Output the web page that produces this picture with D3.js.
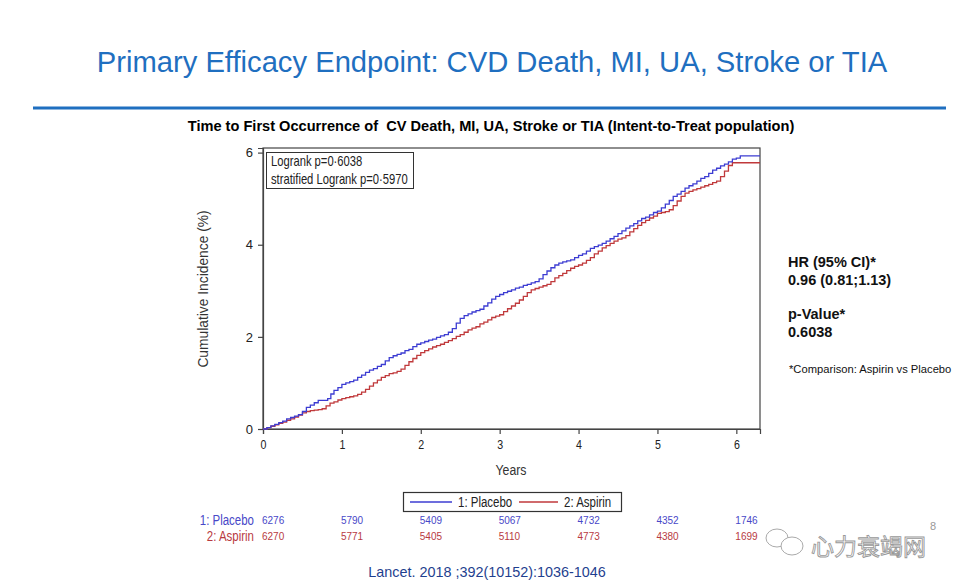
<!DOCTYPE html>
<html><head><meta charset="utf-8">
<script src="https://cdn.jsdelivr.net/npm/d3@7"></script>
<style>
html,body{margin:0;padding:0;background:#fff;}
svg{display:block;}
</style></head>
<body>
<svg id="c" width="962" height="586"></svg>
<script>
// ---------- data ----------
const placeboTime = [0,0.05,0.1,0.15,0.2,0.25,0.3,0.35,0.4,0.45,0.5,0.55,0.6,0.65,0.7,0.78,0.82,0.86,0.9,0.95,1.0,1.05,1.1,1.15,1.2,1.25,1.3,1.35,1.4,1.45,1.5,1.55,1.6,1.65,1.7,1.75,1.8,1.85,1.9,1.95,2.0,2.05,2.1,2.15,2.2,2.25,2.3,2.35,2.4,2.45,2.5,2.55,2.6,2.65,2.7,2.75,2.8,2.85,2.9,2.95,3.0,3.05,3.1,3.15,3.2,3.25,3.3,3.35,3.4,3.45,3.5,3.55,3.6,3.65,3.7,3.75,3.8,3.85,3.9,3.95,4.0,4.05,4.1,4.15,4.2,4.25,4.3,4.35,4.4,4.45,4.5,4.55,4.6,4.65,4.7,4.75,4.8,4.85,4.9,4.95,5.0,5.05,5.1,5.15,5.2,5.25,5.3,5.35,5.4,5.45,5.5,5.55,5.6,5.65,5.7,5.75,5.8,5.85,5.9,5.95,6.0,6.05,6.3];
const placeboValue = [0,0.03,0.07,0.10,0.14,0.17,0.22,0.25,0.28,0.31,0.38,0.47,0.52,0.57,0.62,0.62,0.66,0.76,0.84,0.90,0.97,1.00,1.03,1.06,1.12,1.17,1.23,1.28,1.31,1.36,1.40,1.48,1.55,1.59,1.62,1.65,1.70,1.73,1.79,1.84,1.87,1.90,1.93,1.95,1.99,2.02,2.05,2.10,2.18,2.30,2.40,2.46,2.50,2.54,2.57,2.60,2.67,2.74,2.82,2.88,2.92,2.96,2.99,3.02,3.06,3.08,3.12,3.14,3.17,3.20,3.26,3.35,3.43,3.50,3.56,3.60,3.63,3.65,3.67,3.72,3.77,3.80,3.86,3.92,3.96,3.99,4.03,4.08,4.13,4.18,4.24,4.30,4.36,4.41,4.46,4.52,4.57,4.60,4.65,4.70,4.73,4.80,4.88,4.96,5.05,5.10,5.16,5.23,5.28,5.32,5.38,5.44,5.48,5.55,5.62,5.66,5.71,5.75,5.80,5.86,5.88,5.93,5.93];
const aspirinTime = [0,0.05,0.1,0.15,0.2,0.25,0.3,0.35,0.4,0.45,0.5,0.55,0.6,0.65,0.7,0.75,0.8,0.85,0.9,0.95,1.0,1.05,1.1,1.15,1.2,1.25,1.3,1.35,1.4,1.45,1.5,1.55,1.6,1.65,1.7,1.75,1.8,1.85,1.9,1.95,2.0,2.05,2.1,2.15,2.2,2.25,2.3,2.35,2.4,2.45,2.5,2.55,2.6,2.65,2.7,2.75,2.8,2.85,2.9,2.95,3.0,3.05,3.1,3.15,3.2,3.25,3.3,3.35,3.4,3.45,3.5,3.55,3.6,3.65,3.7,3.75,3.8,3.85,3.9,3.95,4.0,4.05,4.1,4.15,4.2,4.25,4.3,4.35,4.4,4.45,4.5,4.55,4.6,4.65,4.7,4.75,4.8,4.85,4.9,4.95,5.0,5.05,5.1,5.15,5.2,5.25,5.3,5.35,5.4,5.45,5.5,5.55,5.6,5.65,5.7,5.75,5.8,5.85,5.9,5.95,6.3];
const aspirinValue = [0,0.03,0.06,0.09,0.12,0.15,0.19,0.22,0.26,0.30,0.35,0.38,0.40,0.41,0.42,0.44,0.50,0.56,0.59,0.63,0.66,0.68,0.70,0.72,0.75,0.80,0.86,0.93,1.00,1.06,1.12,1.16,1.20,1.22,1.25,1.30,1.38,1.46,1.53,1.60,1.66,1.70,1.74,1.78,1.81,1.84,1.88,1.92,1.96,2.01,2.05,2.10,2.15,2.19,2.22,2.28,2.32,2.37,2.42,2.45,2.48,2.55,2.61,2.67,2.73,2.80,2.88,2.96,3.02,3.05,3.08,3.11,3.14,3.20,3.28,3.33,3.38,3.44,3.49,3.53,3.56,3.60,3.66,3.72,3.80,3.86,3.93,3.98,4.03,4.08,4.12,4.15,4.20,4.28,4.35,4.42,4.48,4.53,4.58,4.62,4.68,4.70,4.72,4.76,4.85,4.95,5.05,5.12,5.16,5.19,5.22,5.25,5.28,5.31,5.35,5.38,5.48,5.60,5.72,5.78,5.78];

const xTicks = [0,1,2,3,4,5,6];
const yTicks = [0,2,4,6];
const riskTimes = [0,1,2,3,4,5,6];
const riskPlacebo = [6276,5790,5409,5067,4732,4352,1746];
const riskAspirin = [6270,5771,5405,5110,4773,4380,1699];
const seriesNames = ["1: Placebo","2: Aspirin"];

// ---------- layout ----------
const svg = d3.select("#c");
const L = 263, R = 760, T = 148, B = 429;
const x = d3.scaleLinear().domain([0,6.3]).range([L,R]);
const y = d3.scaleLinear().domain([0,6.1]).range([B,T]);
const blue = "#3c3cd2", red = "#c0393b";
const arial = "'Liberation Sans',Arial,sans-serif";
const SX = 0.82; // condensed look

function nt(px, py, str, opts={}) {
  const t = svg.append("text")
    .attr("transform", `translate(${px},${py}) scale(${opts.sx||SX},1)`)
    .attr("font-family", arial).attr("font-size", opts.size||13)
    .attr("fill", opts.fill||"#222").attr("text-anchor", opts.anchor||"start")
    .text(str);
  return t;
}

// Slide title
svg.append("text").attr("x",492).attr("y",72).attr("text-anchor","middle")
  .attr("font-family",arial).attr("font-size",29.2).attr("fill","#1f6fc0")
  .text("Primary Efficacy Endpoint: CVD Death, MI, UA, Stroke or TIA");
svg.append("rect").attr("x",33).attr("y",106.5).attr("width",913).attr("height",3).attr("fill","#1f6fc0");

// Chart title
svg.append("text").attr("x",491).attr("y",131).attr("text-anchor","middle")
  .attr("font-family",arial).attr("font-weight","bold").attr("font-size",14.6).attr("fill","#000")
  .attr("xml:space","preserve").style("white-space","pre")
  .text("Time to First Occurrence of  CV Death, MI, UA, Stroke or TIA (Intent-to-Treat population)");

// frame
svg.append("rect").attr("x",L).attr("y",T).attr("width",R-L).attr("height",B-T)
  .attr("fill","none").attr("stroke","#444").attr("stroke-width",1.2);

// axes
const xAxis = svg.append("g").attr("transform",`translate(0,${B})`)
  .call(d3.axisBottom(x).tickValues(xTicks).tickFormat(d3.format("d")).tickSizeOuter(0).tickSize(5).tickPadding(6));
const yAxis = svg.append("g").attr("transform",`translate(${L},0)`)
  .call(d3.axisLeft(y).tickValues(yTicks).tickFormat(d3.format("d")).tickSizeOuter(0).tickSize(5).tickPadding(5));
[xAxis,yAxis].forEach(g=>{
  g.select(".domain").attr("stroke","#444").attr("stroke-width",1.2);
  g.selectAll(".tick line").attr("stroke","#444").attr("stroke-width",1.2);
  g.selectAll(".tick text").attr("font-family",arial).attr("font-size",13).attr("fill","#222");
});
xAxis.selectAll(".tick text").attr("transform",`scale(${SX},1)`);

svg.append("text").attr("transform","translate(208,289) rotate(-90)").attr("text-anchor","middle")
  .attr("font-family",arial).attr("font-size",13.8).attr("fill","#333").text("Cumulative Incidence (%)");
nt(511,475,"Years",{size:15,anchor:"middle",fill:"#333"});

// curves
const line = d3.line().x(d=>x(d[0])).y(d=>y(d[1])).curve(d3.curveStepAfter);
const pData = placeboTime.map((t,i)=>[t,placeboValue[i]]);
const aData = aspirinTime.map((t,i)=>[t,aspirinValue[i]]);
svg.append("path").datum(aData).attr("d",line).attr("fill","none").attr("stroke",red).attr("stroke-width",1.3);
svg.append("path").datum(pData).attr("d",line).attr("fill","none").attr("stroke",blue).attr("stroke-width",1.3);

// logrank box
svg.append("rect").attr("x",266.5).attr("y",152.5).attr("width",147).attr("height",36)
  .attr("fill","#fff").attr("stroke","#333").attr("stroke-width",1);
nt(271,166,"Logrank p=0·6038",{size:14.2,sx:0.79});
nt(271,184,"stratified Logrank p=0·5970",{size:14.2,sx:0.79});

// legend
svg.append("rect").attr("x",403.5).attr("y",492.5).attr("width",218).attr("height",19)
  .attr("fill","#fff").attr("stroke","#333").attr("stroke-width",1.2);
const lg = [{c:blue,x1:410,x2:452,tx:458},{c:red,x1:519,x2:558,tx:564}];
lg.forEach((d,i)=>{
  svg.append("line").attr("x1",d.x1).attr("x2",d.x2).attr("y1",502).attr("y2",502).attr("stroke",d.c).attr("stroke-width",1.3);
  nt(d.tx,507,seriesNames[i],{size:14});
});

// risk table
const rows = [{name:seriesNames[0],vals:riskPlacebo,c:"#4848c8",y:525},{name:seriesNames[1],vals:riskAspirin,c:"#b83a3f",y:541}];
rows.forEach(r=>{
  nt(254,r.y,r.name,{size:14,anchor:"end",fill:r.c});
  svg.append("g").selectAll("text").data(r.vals).join("text")
    .attr("x",(d,i)=>x(riskTimes[i])-1).attr("y",r.y-1)
    .attr("font-family",arial).attr("font-size",10).attr("fill",r.c).text(d=>d);
});

// right annotations
const rt = [["HR (95% CI)*",267],["0.96 (0.81;1.13)",285],["p-Value*",319],["0.6038",337]];
rt.forEach(d=>svg.append("text").attr("x",788).attr("y",d[1]).attr("font-family",arial)
  .attr("font-weight","bold").attr("font-size",14.5).attr("fill","#111").text(d[0]));
svg.append("text").attr("x",789).attr("y",373).attr("font-family",arial).attr("font-size",11.2)
  .attr("fill","#111").text("*Comparison: Aspirin vs Placebo");

// citation
svg.append("text").attr("x",487).attr("y",577).attr("text-anchor","middle").attr("font-family",arial)
  .attr("font-size",14.4).attr("fill","#1f3f8f").text("Lancet. 2018 ;392(10152):1036-1046");

// watermark
svg.append("text").attr("x",930).attr("y",530).attr("font-family",arial).attr("font-size",11).attr("fill","#999").text("8");
const wm = svg.append("g").attr("fill","#fff").attr("stroke","#aaa").attr("stroke-width",1);
wm.append("ellipse").attr("cx",777).attr("cy",538).attr("rx",11).attr("ry",9);
wm.append("ellipse").attr("cx",792).attr("cy",546).attr("rx",11).attr("ry",9);
svg.append("text").attr("x",811).attr("y",555).attr("font-family","'Noto Sans CJK SC',sans-serif")
  .attr("font-size",23).attr("fill","#fff").attr("stroke","#999").attr("stroke-width",0.9).text("心力衰竭网");
</script>
</body></html>
